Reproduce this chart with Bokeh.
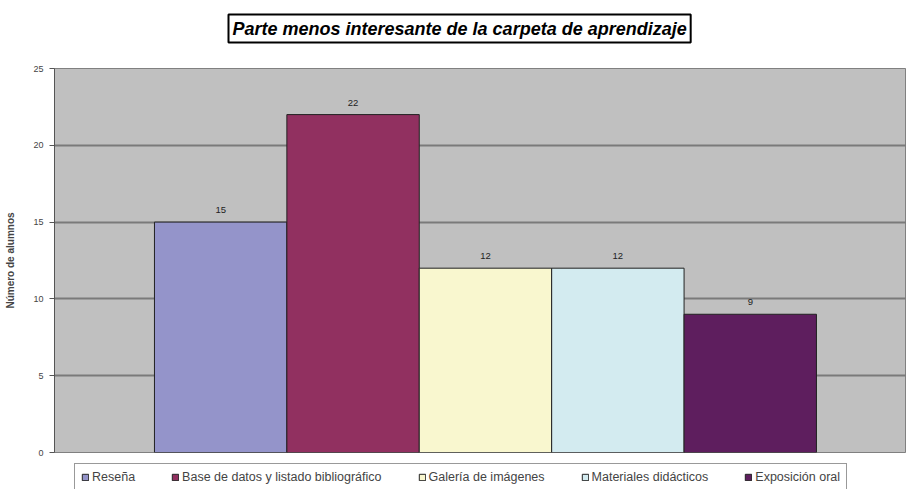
from bokeh.plotting import figure
from bokeh.models import ColumnDataSource, Range1d, Legend, LegendItem, Title, FixedTicker
from bokeh.layouts import column
from bokeh.embed import file_html
from bokeh.resources import INLINE
from bokeh.core.properties import value

categorias = ["Reseña", "Base de datos y listado bibliográfico", "Galería de imágenes",
              "Materiales didácticos", "Exposición oral"]
alumnos = [15, 22, 12, 12, 9]
colores = ["#9494CA", "#913060", "#F9F7CF", "#D3EBF0", "#5E1E5E"]
y_ticks = [0, 5, 10, 15, 20, 25]

source = ColumnDataSource(dict(
    x=list(range(len(categorias))),
    top=alumnos,
    cat=categorias,
    color=colores,
    lbl=[str(v) for v in alumnos],
))

p = figure(frame_width=852, frame_height=384, output_backend="svg", toolbar_location=None,
           x_range=Range1d(-1.255, 5.18), y_range=Range1d(0, 25), title_location=None,
           min_border_left=54, min_border_right=0, min_border_top=68, min_border_bottom=6)

p.background_fill_color = "#C0C0C0"
p.border_fill_color = "white"
p.outline_line_color = "#808080"
p.outline_line_width = 1

spacer = Title(text=" ", text_font_size="1px", standoff=23)
p.add_layout(spacer, "above")
main_title = Title(text="Parte menos interesante de la carpeta de aprendizaje",
                   text_font="Liberation Sans", text_font_style="bold italic",
                   text_font_size="18px", text_color="black", align="left", offset=174,
                   standoff=0, border_line_color="black",
                   border_line_width=2, background_fill_color="white", padding=4)
p.add_layout(main_title, "above")

r = p.vbar(x="x", top="top", width=1.0, bottom=0, source=source, fill_color="color",
           line_color="#222222", line_width=1)

p.text(x="x", y="top", text="lbl", source=source, text_align="center",
       text_baseline="bottom", y_offset=-9, text_font_size="9.5px",
       text_font=value("Liberation Sans"), text_color="#222222")

p.xaxis.visible = False
p.xgrid.visible = False
p.ygrid.grid_line_color = "#7A7A7A"
p.ygrid.grid_line_width = 2

yax = p.yaxis[0]
yax.ticker = FixedTicker(ticks=y_ticks)
yax.minor_tick_line_color = None
yax.major_tick_out = 5
yax.major_tick_in = 0
yax.major_tick_line_color = "#555555"
yax.axis_line_color = "#555555"
yax.major_label_text_font = "Liberation Sans"
yax.major_label_text_font_size = "9px"
yax.major_label_standoff = 6
yax.axis_label = "Número de alumnos"
yax.axis_label_text_font = "Liberation Sans"
yax.axis_label_text_font_style = "bold"
yax.axis_label_text_font_size = "10px"
yax.axis_label_standoff = 14

# Legend strip below the chart
lf = figure(width=906, height=31, output_backend="svg", toolbar_location=None,
            x_range=Range1d(0, 1), y_range=Range1d(0, 1), title_location=None,
            x_axis_type=None, y_axis_type=None,
            min_border_left=0, min_border_right=0, min_border_top=0, min_border_bottom=0)
lf.outline_line_color = None
lf.background_fill_color = "white"
lf.border_fill_color = "white"
lf.xgrid.visible = False
lf.ygrid.visible = False
lr = lf.vbar(x="x", top="top", width=1.0, bottom=0, source=source, fill_color="color",
             line_color="#222222", line_width=1)
lr.glyph.x = 100  # keep the legend's proxy bars outside the visible strip

items = [LegendItem(label=c, renderers=[lr], index=i) for i, c in enumerate(categorias)]
leg = Legend(items=items, orientation="horizontal", location=(20, -2), margin=0,
             label_text_font="Liberation Sans", label_text_font_size="12.5px",
             glyph_width=8, glyph_height=8, label_standoff=3, spacing=36, padding=6,
             border_line_color="#333333", border_line_width=1,
             background_fill_color="white")
lf.add_layout(leg, "center")

layout = column(p, lf, spacing=0)
open("out.html", "w").write(file_html(layout, INLINE))
